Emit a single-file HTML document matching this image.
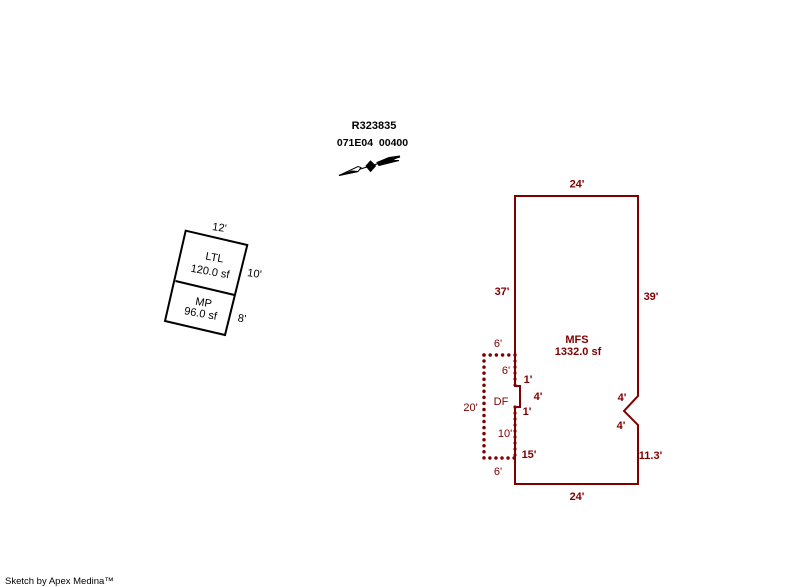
<!DOCTYPE html>
<html>
<head>
<meta charset="utf-8">
<style>
html,body{margin:0;padding:0;background:#fff;width:800px;height:587px;overflow:hidden}
svg{display:block}
text{font-family:"Liberation Sans",sans-serif;font-size:11px;text-anchor:middle}
.r{fill:#800000;font-weight:bold}
.t{fill:#800000}
.k{fill:#000}
.b{fill:#000;font-weight:bold}
</style>
</head>
<body>
<svg width="800" height="587" viewBox="0 0 800 587" xmlns="http://www.w3.org/2000/svg">
<rect width="800" height="587" fill="#fff"/>

<text class="b" x="374" y="129">R323835</text>
<text class="b" x="372.500" y="146" style="font-size:10.500px" xml:space="preserve">071E04  00400</text>

<g stroke="#000" stroke-width="1" fill="#000">
  <line x1="339" y1="175.500" x2="400" y2="157"/>
  <polygon points="339,175.500 358,166.500 361,167.500 358,171.500" fill="#fff"/>
  <polygon points="339,175.500 352,171 358,171.500"/>
  <polygon points="370.500,161 375.500,166 370.500,171.500 366,166"/>
  <polygon points="377,162.500 389,157.500 400,156 392,160.500 399,160.500 379,165.500"/>
</g>

<g fill="none" stroke="#000" stroke-width="2">
  <polygon points="185.700,230.700 247.300,245 225,335 165,321"/>
  <line x1="175.500" y1="281" x2="234.500" y2="295"/>
</g>
<text class="k" x="219" y="231" transform="rotate(8 219 231)">12'</text>
<text class="k" x="254" y="277" transform="rotate(8 254 277)">10'</text>
<text class="k" x="241.500" y="322" transform="rotate(8 241.500 322)">8'</text>
<text class="k" x="214" y="261" transform="rotate(10 214 261)">LTL</text>
<text class="k" x="209.500" y="275" transform="rotate(10 209.500 275)">120.0 sf</text>
<text class="k" x="203" y="306" transform="rotate(10 203 306)">MP</text>
<text class="k" x="200" y="317" transform="rotate(10 200 317)">96.0 sf</text>

<polyline points="484,355 515,355" fill="none" stroke="#800000" stroke-width="3.500" stroke-linecap="round" stroke-dasharray="0 6.200"/>
<polyline points="484,355 484,458 515,458" fill="none" stroke="#800000" stroke-width="3.500" stroke-linecap="round" stroke-dasharray="0 6.050"/>
<polyline points="515,355 515,386" fill="none" stroke="#a04040" stroke-width="3.500" stroke-linecap="round" stroke-dasharray="0 6"/>
<polyline points="515,407 515,458" fill="none" stroke="#a04040" stroke-width="3.500" stroke-linecap="round" stroke-dasharray="0 6"/>
<polygon points="515,196 638,196 638,396 624,411 638,425 638,484 515,484 515,407 520,407 520,386 515,386" fill="none" stroke="#800000" stroke-width="2"/>

<text class="r" x="577" y="187.500">24'</text>
<text class="r" x="502" y="295">37'</text>
<text class="r" x="651" y="300">39'</text>
<text class="r" x="577" y="343">MFS</text>
<text class="r" x="578" y="355">1332.0 sf</text>
<text class="r" x="528" y="383">1'</text>
<text class="r" x="538" y="400">4'</text>
<text class="r" x="527" y="415">1'</text>
<text class="r" x="529" y="458">15'</text>
<text class="r" x="622" y="401">4'</text>
<text class="r" x="621" y="429">4'</text>
<text class="r" x="650.500" y="459">11.3'</text>
<text class="r" x="577" y="500">24'</text>

<text class="t" x="498" y="347">6'</text>
<text class="t" x="506" y="374">6'</text>
<text class="t" x="501" y="405">DF</text>
<text class="t" x="470.500" y="411">20'</text>
<text class="t" x="505" y="437">10'</text>
<text class="t" x="498" y="475">6'</text>

<text class="k" x="5" y="584" style="text-anchor:start;font-size:9.500px">Sketch by Apex Medina™</text>
</svg>
</body>
</html>
